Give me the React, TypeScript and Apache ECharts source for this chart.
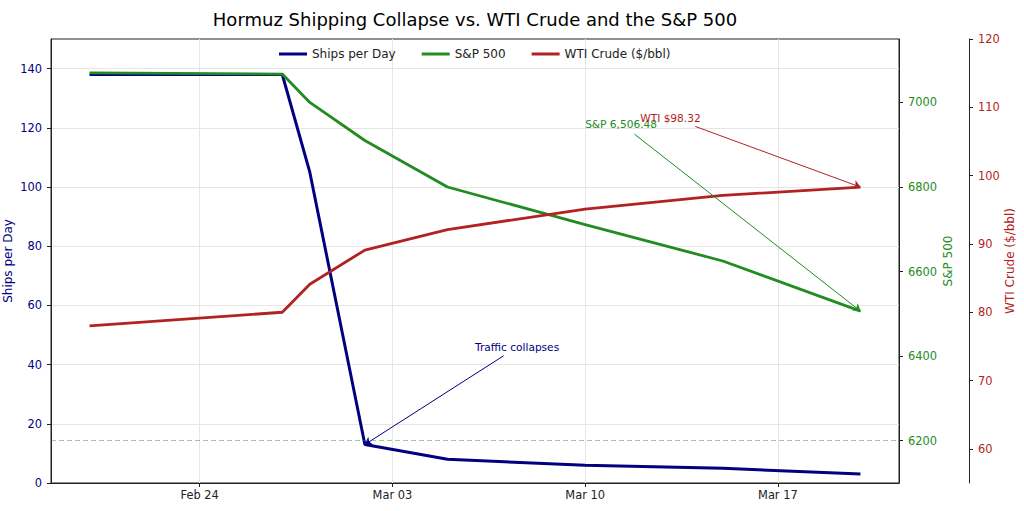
import React, { useEffect, useRef } from 'react'
import * as echarts from 'echarts'

// 2026 calendar dates (month is 1-based here)
const day = (m: number, d: number, h = 0) => new Date(2026, m - 1, d, h).getTime()
const DAY_MS = 24 * 3600 * 1000

const dates = [day(2, 20), day(2, 27), day(2, 28), day(3, 2), day(3, 5), day(3, 10), day(3, 15), day(3, 20)]
const shipsPerDay = [138, 138, 105, 13, 8, 6, 5, 3]
const sp500 = [7070, 7067, 7000, 6910, 6800, 6711, 6625, 6506.48]
const wtiCrude = [78.0, 80.0, 84.1, 89.1, 92.1, 95.1, 97.1, 98.32]

const xTicks = [day(2, 24), day(3, 3), day(3, 10), day(3, 17)]
const shipTicks = [0, 20, 40, 60, 80, 100, 120, 140]
const spTicks = [6200, 6400, 6600, 6800, 7000]
const wtiTicks = [60, 70, 80, 90, 100, 110, 120]

const spThreshold = 6200

// annotations: text anchor, arrow start (both in data units)
const trafficText = [day(3, 6), 46]
const trafficFrom = [day(3, 7, 1), 43]
const spText = [day(3, 10), 6949]
const spFrom = [day(3, 11, 19), 6925]
const wtiText = [day(3, 12), 108.5]
const wtiFrom = [day(3, 14), 107.2]

const FONT = 'DejaVu Sans'
const NAVY = '#000080'
const GREEN = '#228B22'
const RED = '#B22222'
const SPINE = '#222'
const GRID = '#e6e6e6'
const MONTHS = ['Jan', 'Feb', 'Mar', 'Apr', 'May', 'Jun', 'Jul', 'Aug', 'Sep', 'Oct', 'Nov', 'Dec']

const arrowPair = (from: number[], to: number[]) => [{ coord: from }, { coord: to, symbol: 'arrow' }]

const marks = (color: string, data: any[]) => ({
  silent: true,
  symbol: 'none',
  symbolSize: 7,
  label: { show: false },
  emphasis: { disabled: true },
  lineStyle: { color, width: 1, type: 'solid' as const },
  data,
})

const note = (color: string, text: string, at: number[]) => ({
  silent: true,
  symbol: 'circle',
  symbolSize: 1,
  itemStyle: { color: 'rgba(0,0,0,0)' },
  label: {
    show: true, position: 'inside', align: 'left', verticalAlign: 'middle',
    formatter: '{b}', color, fontSize: 10.6, fontFamily: FONT,
  },
  data: [{ name: text, coord: at }],
})

const App: React.FC = () => {
  const ref = useRef<HTMLDivElement>(null)

  useEffect(() => {
    document.body.style.margin = '0'
    if (!ref.current) return
    const chart = echarts.init(ref.current, null, { renderer: 'svg' })

    const last = dates.length - 1
    const xMin = dates[0] - 1.4 * DAY_MS
    const xMax = dates[last] + 1.4 * DAY_MS

    const tickLine = { lineStyle: { color: SPINE, width: 1 } }
    const plain = (v: number) => String(v)

    chart.setOption({
      animation: false,
      backgroundColor: '#fff',
      textStyle: { fontFamily: FONT },
      title: {
        text: 'Hormuz Shipping Collapse vs. WTI Crude and the S&P 500',
        left: 470, top: 5, textAlign: 'center',
        textStyle: { fontSize: 18, fontWeight: 'normal', color: '#000', fontFamily: FONT },
      },
      legend: {
        top: 48, left: 279, itemGap: 26, padding: 0,
        icon: 'rect', itemWidth: 28, itemHeight: 3,
        textStyle: { fontSize: 12, color: '#222', fontFamily: FONT },
        data: ['Ships per Day', 'S&P 500', 'WTI Crude ($/bbl)'],
      },
      grid: {
        left: 51, right: 125, top: 39, bottom: 28,
        outerBoundsMode: 'none', containLabel: false,
        show: true, borderColor: SPINE, borderWidth: 1, backgroundColor: 'transparent',
      },
      xAxis: {
        type: 'value', min: xMin, max: xMax,
        axisLine: { show: true, ...tickLine },
        axisTick: { show: true, length: 4, customValues: xTicks, ...tickLine },
        axisLabel: {
          customValues: xTicks, color: '#222', fontSize: 11.4, margin: 6,
          formatter: (v: number) => {
            const d = new Date(v)
            return `${MONTHS[d.getMonth()]} ${String(d.getDate()).padStart(2, '0')}`
          },
        },
        splitLine: { show: true, lineStyle: { color: GRID, width: 1 } },
      },
      yAxis: [
        {
          type: 'value', min: 0, max: 150, interval: 20, position: 'left',
          name: 'Ships per Day', nameLocation: 'middle', nameGap: 37, nameMoveOverlap: false,
          nameTextStyle: { color: NAVY, fontSize: 12, fontFamily: FONT },
          axisLine: { show: true, ...tickLine },
          axisTick: { show: true, length: 4, customValues: shipTicks, ...tickLine },
          axisLabel: { customValues: shipTicks, formatter: plain, color: NAVY, fontSize: 11.4, margin: 9 },
          splitLine: { show: true, lineStyle: { color: GRID, width: 1 } },
        },
        {
          type: 'value', min: 6100, max: 7150, position: 'right',
          name: 'S&P 500', nameLocation: 'middle', nameGap: 43, nameMoveOverlap: false,
          nameTextStyle: { color: GREEN, fontSize: 12, fontFamily: FONT },
          axisLine: { show: true, ...tickLine },
          axisTick: { show: true, length: 4, customValues: spTicks, ...tickLine },
          axisLabel: { customValues: spTicks, formatter: plain, color: GREEN, fontSize: 11.4, margin: 9 },
          splitLine: { show: false },
        },
        {
          type: 'value', min: 55, max: 120, position: 'right', offset: 70,
          name: 'WTI Crude ($/bbl)', nameLocation: 'middle', nameGap: 35, nameMoveOverlap: false,
          nameTextStyle: { color: RED, fontSize: 12, fontFamily: FONT },
          axisLine: { show: true, ...tickLine },
          axisTick: { show: true, length: 4, customValues: wtiTicks, ...tickLine },
          axisLabel: { customValues: wtiTicks, formatter: plain, color: RED, fontSize: 11.4, margin: 9 },
          splitLine: { show: false },
        },
      ],
      series: [
        {
          name: 'Ships per Day', type: 'line', yAxisIndex: 0,
          data: dates.map((t, i) => [t, shipsPerDay[i]]),
          symbol: 'none', showSymbol: false,
          lineStyle: { color: NAVY, width: 3 }, itemStyle: { color: NAVY },
          markLine: marks(NAVY, [arrowPair(trafficFrom, [dates[3], shipsPerDay[3]])]),
          markPoint: note(NAVY, 'Traffic collapses', trafficText),
        },
        {
          name: 'S&P 500', type: 'line', yAxisIndex: 1,
          data: dates.map((t, i) => [t, sp500[i]]),
          symbol: 'none', showSymbol: false,
          lineStyle: { color: GREEN, width: 2.8 }, itemStyle: { color: GREEN },
          markLine: marks(GREEN, [
            arrowPair(spFrom, [dates[last], sp500[last]]),
            {
              yAxis: spThreshold,
              lineStyle: { color: 'rgba(34,139,34,0.45)', width: 1, type: [5, 3] },
            },
          ]),
          markPoint: note(GREEN, 'S&P 6,506.48', spText),
        },
        {
          name: 'WTI Crude ($/bbl)', type: 'line', yAxisIndex: 2,
          data: dates.map((t, i) => [t, wtiCrude[i]]),
          symbol: 'none', showSymbol: false,
          lineStyle: { color: RED, width: 2.8 }, itemStyle: { color: RED },
          markLine: marks(RED, [arrowPair(wtiFrom, [dates[last], wtiCrude[last]])]),
          markPoint: note(RED, 'WTI $98.32', wtiText),
        },
      ],
    })

    return () => chart.dispose()
  }, [])

  return <div ref={ref} style={{ width: 1024, height: 511 }} />
}

export default App
